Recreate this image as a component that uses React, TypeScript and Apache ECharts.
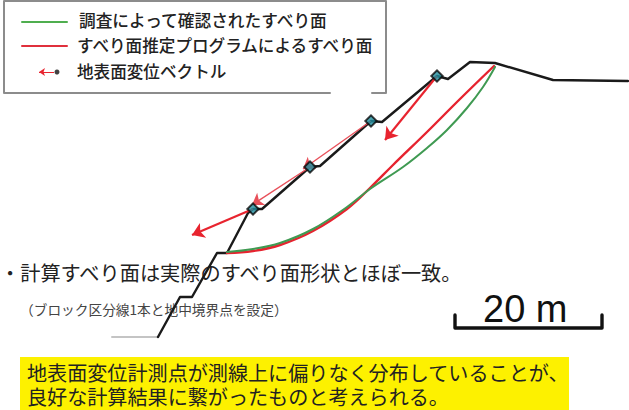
import React, { useEffect, useRef } from "react";
import * as echarts from "echarts";

const terrain = [[158,337],[180,297],[192,297],[217,253],[227,253],[248,213],[253,209],[262,209],[310,167],[320,166],[371,121],[382,122],[437,76],[448,79],[470,62],[495,63],[553,80],[628,81]];
const terrainToe = [[112,337],[158,337]];
const greenSlip = [[495,67],[483,87],[467,108],[447,130],[427,148],[403,167],[370,189],[347,207],[313,229],[280,243],[253,249],[227,252]];
const redSlip = [[494,66],[460,99],[427,132],[393,165],[370,188],[347,209],[313,231],[280,245],[253,251],[227,253]];
const strongVectors = [
  [[437,76],[385,140]],
  [[253,209],[192,235]],
];
const thinVectors = [
  [[371,121],[303,169]],
  [[310,167],[252,205]],
];
const stations = [[437,76],[371,121],[310,167],[253,209]];
const legendFrame = [[330,93],[4,93],[4,1],[386,1],[386,93],[372,93]];
const legendGreen = [[22,22],[67,22]];
const legendRed = [[22,46],[67,46]];
const legendVector = [[[54,72],[39,72]]];
const legendDot = [[57,72]];
const scaleBar = [[455,315],[455,328],[602,328],[602,315]];

const legendTexts = ["調査によって確認されたすべり面", "すべり面推定プログラムによるすべり面", "地表面変位ベクトル"];
const noteMain = "・計算すべり面は実際のすべり面形状とほぼ一致。";
const noteSub = "（ブロック区分線1本と地中境界点を設定）";
const scaleLabel = "20 m";
const conclusion = ["地表面変位計測点が測線上に偏りなく分布していることが、", "良好な計算結果に繋がったものと考えられる。"];

const CJK = '"Noto Sans CJK JP", sans-serif';
const INK = "#222222";

const line = (data: number[][], color: string, width: number, z = 3, smooth: number | boolean = false) => ({
  type: "line", data, smooth, symbol: "none", z, silent: true,
  lineStyle: { color, width, cap: "round", join: "round" },
});
const arrows = (data: number[][][], color: string, width: number, size: number, z = 4) => ({
  type: "lines", coordinateSystem: "cartesian2d", polyline: false, z, silent: true,
  symbol: ["none", "arrow"], symbolSize: size,
  lineStyle: { color, width, opacity: 1, curveness: 0 },
  data: data.map((coords) => ({ coords })),
});
const txt = (x: number, y: number, text: string, size: number, weight = 500, family = CJK, fill = INK, lineHeight = size) => ({
  type: "text", x, y, z: 1, silent: true,
  style: { text, x: 0, y: 0, fill, font: `${weight} ${size}px ${family}`, lineHeight, verticalAlign: "middle" },
});

export default function App() {
  const ref = useRef<HTMLDivElement>(null);
  useEffect(() => {
    const chart = echarts.init(ref.current!, undefined, { renderer: "svg" });
    chart.setOption({
      animation: false,
      backgroundColor: "#ffffff",
      grid: { left: 0, right: 0, top: 0, bottom: 0 },
      xAxis: { type: "value", min: 0, max: 629, show: false },
      yAxis: { type: "value", min: 0, max: 410, inverse: true, show: false },
      graphic: { elements: [
        { type: "rect", z: 0, silent: true, shape: { x: 20, y: 357, width: 549, height: 53 }, style: { fill: "#fdf100" } },
        txt(79, 20, legendTexts[0], 16.7),
        txt(77, 45, legendTexts[1], 16.6),
        txt(77, 71, legendTexts[2], 16.6),
        txt(0, 272, noteMain, 20.2, 400),
        txt(20, 309, noteSub, 13.7, 400, CJK, "#444444"),
        txt(483, 309, scaleLabel, 38, 400, '"Liberation Sans", Arial, sans-serif', "#111111"),
        txt(27, 384, conclusion.join("\n"), 20.1, 400, CJK, INK, 24),
      ] },
      series: [
        line(legendFrame, "#8c8c8c", 2, 2),
        line(legendGreen, "#4fae4f", 2),
        line(legendRed, "#e0303c", 2),
        line(terrainToe, "#c4c4c4", 2, 2),
        line(terrain, "#1a1a1a", 2.4, 3),
        line(redSlip, "#e6232f", 2.4, 3, 0.4),
        line(greenSlip, "#3f9a52", 2, 3, 0.4),
        line(scaleBar, "#111111", 3.4, 3),
        arrows(strongVectors, "#e8242f", 2.2, 12),
        arrows(thinVectors, "#e8505a", 1.4, 11),
        arrows(legendVector, "#e8242f", 1, 6),
        { type: "scatter", data: stations, symbol: "rect", symbolRotate: 45, symbolSize: 8, z: 5, silent: true,
          itemStyle: { color: "#1f8f9f", borderColor: "#0a0a0a", borderWidth: 2 } },
        { type: "scatter", data: legendDot, symbol: "circle", symbolSize: 5, z: 5, silent: true, itemStyle: { color: "#111111" } },
      ],
    });
    return () => chart.dispose();
  }, []);
  return <div ref={ref} style={{ position: "absolute", left: 0, top: 0, width: 629, height: 410 }} />;
}
